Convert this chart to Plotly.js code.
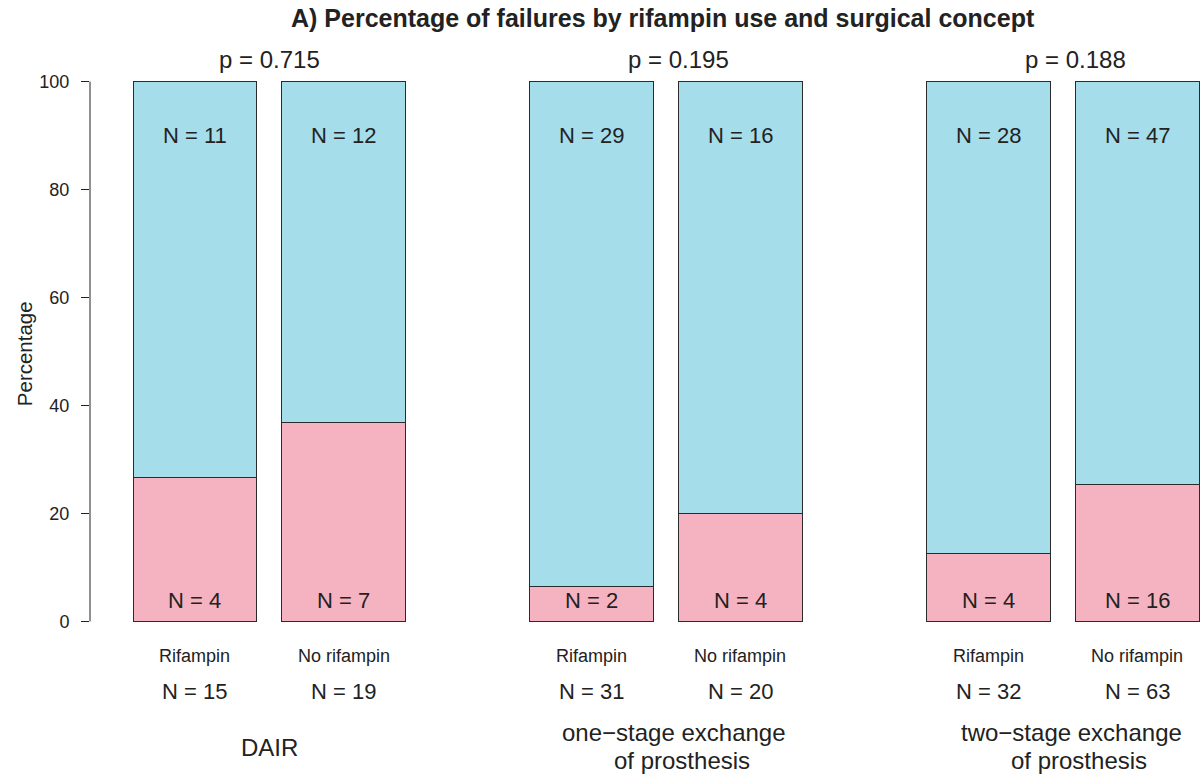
<!DOCTYPE html>
<html>
<head>
<meta charset="utf-8">
<script src="https://cdn.plot.ly/plotly-3.0.1.min.js"></script>
<style>
  html, body { margin: 0; padding: 0; background: #fff; }
  #chart { width: 1200px; height: 775px; }
</style>
</head>
<body>
<div id="chart"></div>
<script>
// Surgical concepts and treatment arms
const groups = ['DAIR', 'one\u2212stage exchange<br>of prosthesis', 'two\u2212stage exchange<br>of prosthesis'];
const arms = ['Rifampin', 'No rifampin'];
// Patient counts per concept, [Rifampin, No rifampin]
const failures = [[4, 7], [2, 4], [4, 16]];
const successes = [[11, 12], [29, 16], [28, 47]];
const pValues = ['0.715', '0.195', '0.188'];
const yTicks = [0, 20, 40, 60, 80, 100];

const FONT = 'Liberation Sans, Arial, Helvetica, sans-serif';
const INK = '#222222';
const PINK = '#F5B3C1';
const BLUE = '#A6DDEB';

const Y_RANGE = [-0.3, 100.3];
// value on the percentage scale -> paper fraction (works above/below the axis range too)
const yp = v => (v - Y_RANGE[0]) / (Y_RANGE[1] - Y_RANGE[0]);

// Bar placement: width 1, 0.2 gap inside a concept, 1.0 gap between concepts
const xs = [], failPct = [], succPct = [], failN = [], succN = [], totals = [], armLabels = [];
groups.forEach((g, gi) => {
  arms.forEach((a, ai) => {
    const f = failures[gi][ai], s = successes[gi][ai], n = f + s;
    xs.push(0.7 + gi * 3.2 + ai * 1.2);
    failPct.push(100 * f / n);
    succPct.push(100 * s / n);
    failN.push(f); succN.push(s); totals.push(n); armLabels.push(a);
  });
});
// horizontal anchor of each concept's p-value and name
const groupTextX = [1.3, 4.6, 7.8];

const outline = { color: '#2b2b2b', width: 1 };
const traces = [
  { type: 'bar', x: xs, y: failPct, width: 1, marker: { color: PINK, line: outline },
    name: 'Failure', hoverinfo: 'skip' },
  { type: 'bar', x: xs, y: succPct, width: 1, marker: { color: BLUE, line: outline },
    name: 'No failure', hoverinfo: 'skip' }
];

const ann = [];
const txt = (x, v, text, size, extra) => Object.assign({
  x, y: yp(v), xref: 'x', yref: 'paper', text, showarrow: false,
  font: { family: FONT, size, color: INK }, xanchor: 'center', yanchor: 'middle'
}, extra || {});

xs.forEach((x, i) => {
  ann.push(txt(x, 90, 'N = ' + succN[i], 22));
  ann.push(txt(x, 3.8, 'N = ' + failN[i], 22));
  ann.push(txt(x, -6.5, armLabels[i], 18));
  ann.push(txt(x, -13.0, 'N = ' + totals[i], 22));
});
groups.forEach((g, gi) => {
  const cx = groupTextX[gi];
  ann.push(txt(cx, 104.1, 'p = ' + pValues[gi], 24));
  const lines = g.split('<br>');
  if (lines.length === 1) {
    ann.push(txt(cx, -23.3, lines[0], 24));
  } else {
    ann.push(txt(cx, -20.6, lines[0], 24, { xshift: -4 }));
    ann.push(txt(cx, -25.8, lines[1], 24, { xshift: 4 }));
  }
});

// Title above the plot area
ann.push({
  x: 0.516, y: 1, xref: 'paper', yref: 'paper', yshift: 62,
  text: '<b>A) Percentage of failures by rifampin use and surgical concept</b>',
  showarrow: false, font: { family: FONT, size: 25, color: INK }, xanchor: 'center', yanchor: 'middle'
});
// Y-axis label, left of the tick labels
ann.push({
  x: 0, xshift: -66, y: yp(49.5), xref: 'paper', yref: 'paper', text: 'Percentage', textangle: -90,
  showarrow: false, font: { family: FONT, size: 20.5, color: INK }, xanchor: 'center', yanchor: 'middle'
});

const layout = {
  width: 1200, height: 775,
  margin: { l: 90, r: 0, t: 80.4, b: 152.4, pad: 0 },
  paper_bgcolor: '#fff', plot_bgcolor: '#fff',
  barmode: 'stack', bargap: 0,
  showlegend: false,
  xaxis: { range: [-0.147, 8.808], visible: false, fixedrange: true },
  yaxis: {
    range: Y_RANGE, tickvals: yTicks, ticktext: yTicks.map(String),
    ticks: 'outside', ticklen: 8, tickwidth: 1, tickcolor: INK,
    ticklabelstandoff: 8,
    showgrid: false, zeroline: false, showline: false,
    tickfont: { family: FONT, size: 18, color: INK },
    fixedrange: true
  },
  shapes: [
    // axis line spanning only 0..100
    { type: 'line', xref: 'paper', yref: 'y', x0: 0, x1: 0, y0: 0, y1: 100,
      line: { color: INK, width: 1 } }
  ],
  annotations: ann
};

Plotly.newPlot('chart', traces, layout, { staticPlot: true, displayModeBar: false });
</script>
</body>
</html>
